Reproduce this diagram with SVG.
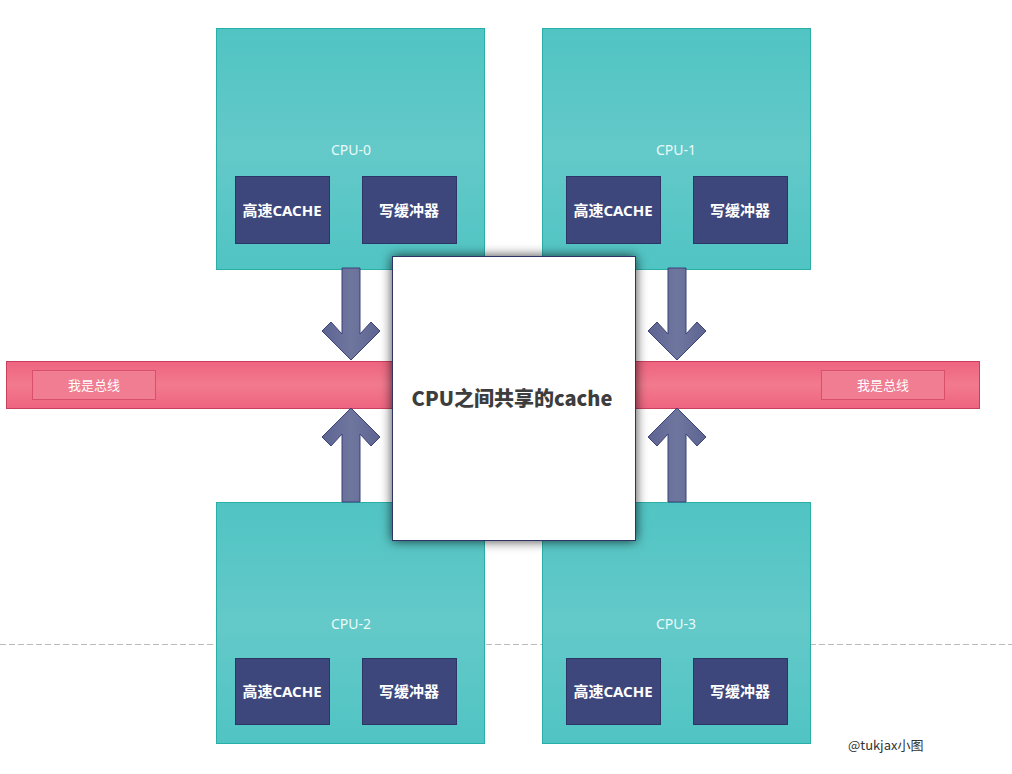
<svg xmlns="http://www.w3.org/2000/svg" width="1012" height="774" viewBox="0 0 1012 774">
<defs>
<linearGradient id="teal" x1="0" y1="0" x2="0" y2="1">
<stop offset="0" stop-color="#50c4c3"/><stop offset="0.5" stop-color="#64c9c9"/><stop offset="1" stop-color="#50c4c3"/>
</linearGradient>
<linearGradient id="pink" x1="0" y1="0" x2="0" y2="1">
<stop offset="0" stop-color="#ee6480"/><stop offset="0.5" stop-color="#f27a8e"/><stop offset="1" stop-color="#ee6480"/>
</linearGradient>
<linearGradient id="arrowg" x1="0" y1="0" x2="1" y2="0">
<stop offset="0" stop-color="#5d6491"/><stop offset="0.5" stop-color="#6f769e"/><stop offset="1" stop-color="#5d6491"/>
</linearGradient>
<filter id="shadow" x="-20%" y="-20%" width="140%" height="140%">
<feDropShadow dx="0" dy="0" stdDeviation="6" flood-color="#000" flood-opacity="0.75"/>
</filter>
</defs>
<style>
.cpu{fill:url(#teal);stroke:#2aaea8;stroke-width:1}
.cpuLbl{font-family:"Noto Sans","Noto Sans CJK SC",sans-serif;font-size:14px;fill:#eaf9f9;text-anchor:middle}
.inner{fill:#3d477c;stroke:#2d3566;stroke-width:1}
.innerLbl{font-family:"Noto Sans","Noto Sans CJK SC",sans-serif;font-size:15px;font-weight:bold;fill:#fff;text-anchor:middle}
.bus{fill:url(#pink);stroke:#c9405e;stroke-width:1}
.busTag{fill:#f07d91;stroke:#d9506c;stroke-width:1}
.busLbl{font-family:"Noto Sans CJK SC",sans-serif;font-size:13px;fill:#fff;text-anchor:middle}
.arrow{fill:url(#arrowg);stroke:#3b4279;stroke-width:1}
</style>
<line x1="0" y1="644.5" x2="1012" y2="644.5" stroke="#bbbbbb" stroke-width="1" stroke-dasharray="6,3"/>
<g id="bus">
<rect class="bus" x="6.5" y="361.5" width="973" height="47"/>
<rect class="busTag" x="32.5" y="370.5" width="123" height="29"/>
<text class="busLbl" x="94" y="390">我是总线</text>
<rect class="busTag" x="821.5" y="370.5" width="123" height="29"/>
<text class="busLbl" x="883" y="390">我是总线</text>
</g>
<g id="cpu0">
<rect class="cpu" x="216.5" y="28.5" width="268" height="241"/>
<text class="cpuLbl" x="351" y="155">CPU-0</text>
<rect class="inner" x="235.5" y="176.5" width="94" height="67"/>
<text class="innerLbl" x="282" y="216">高速CACHE</text>
<rect class="inner" x="362.5" y="176.5" width="94" height="67"/>
<text class="innerLbl" x="409" y="216">写缓冲器</text>
</g>
<g id="cpu1">
<rect class="cpu" x="542.5" y="28.5" width="268" height="241"/>
<text class="cpuLbl" x="676" y="155">CPU-1</text>
<rect class="inner" x="566.5" y="176.5" width="94" height="67"/>
<text class="innerLbl" x="613" y="216">高速CACHE</text>
<rect class="inner" x="693.5" y="176.5" width="94" height="67"/>
<text class="innerLbl" x="740" y="216">写缓冲器</text>
</g>
<g id="cpu2">
<rect class="cpu" x="216.5" y="502.5" width="268" height="241"/>
<text class="cpuLbl" x="351" y="629">CPU-2</text>
<rect class="inner" x="235.5" y="658.5" width="94" height="66"/>
<text class="innerLbl" x="282" y="697">高速CACHE</text>
<rect class="inner" x="362.5" y="658.5" width="94" height="66"/>
<text class="innerLbl" x="409" y="697">写缓冲器</text>
</g>
<g id="cpu3">
<rect class="cpu" x="542.5" y="502.5" width="268" height="241"/>
<text class="cpuLbl" x="676" y="629">CPU-3</text>
<rect class="inner" x="566.5" y="658.5" width="94" height="66"/>
<text class="innerLbl" x="613" y="697">高速CACHE</text>
<rect class="inner" x="693.5" y="658.5" width="94" height="66"/>
<text class="innerLbl" x="740" y="697">写缓冲器</text>
</g>
<g id="connectors">
<polygon class="arrow" points="342,268 360,268 360,334 371,322 380,331 351,360 322,331 331,322 342,334"/>
<polygon class="arrow" points="342,502 360,502 360,434 371,446 380,437 351,408 322,437 331,446 342,434"/>
<polygon class="arrow" points="668,268 686,268 686,334 697,322 706,331 677,360 648,331 657,322 668,334"/>
<polygon class="arrow" points="668,502 686,502 686,434 697,446 706,437 677,408 648,437 657,446 668,434"/>
</g>
<g id="shared-cache">
<rect x="392.5" y="256.5" width="243" height="284" fill="#ffffff" stroke="#2e3566" stroke-width="1" filter="url(#shadow)"/>
<text x="512" y="406" font-family="'Noto Sans CJK SC',sans-serif" font-size="20" font-weight="900" fill="#3d3d3d" text-anchor="middle">CPU之间共享的cache</text>
</g>
<text id="watermark" x="848" y="750" font-family="'Noto Sans CJK SC',sans-serif" font-size="13" fill="#333333">@tukjax小图</text>
</svg>
